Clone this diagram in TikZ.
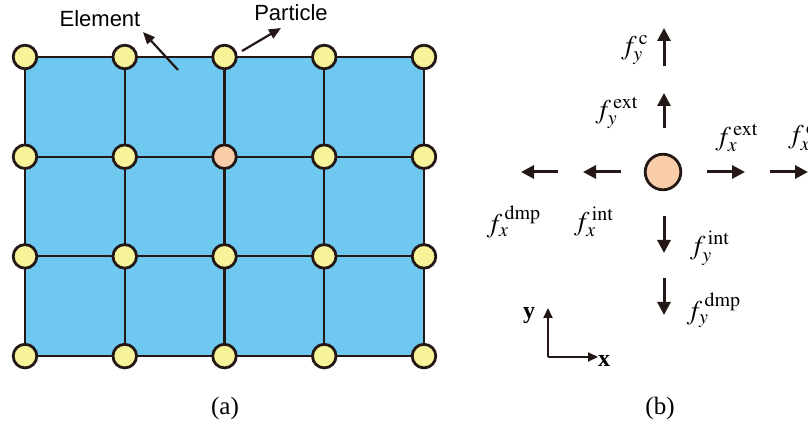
\documentclass[tikz,border=0pt]{standalone}
\usepackage{mathptmx}
\usepackage{fontspec}
\setmainfont{Liberation Serif}
\newfontfamily\labelfont{Liberation Sans}
\usetikzlibrary{arrows.meta}

\definecolor{meshblue}{RGB}{110,200,240}
\definecolor{ptcyellow}{RGB}{247,243,153}
\definecolor{ptcpeach}{RGB}{250,205,170}
\definecolor{inkline}{RGB}{35,24,21}

\begin{document}
\begin{tikzpicture}[x=0.5pt, y=-0.5pt,
    mesh/.style={inkline, line width=1.1pt},
    particle/.style={circle, draw=inkline, line width=1.4pt, fill=ptcyellow, minimum size=11.8pt, inner sep=0pt},
    pointer/.style={inkline, line width=1.1pt, -{Triangle[length=6pt, width=5pt]}},
    force/.style={inkline, line width=1.5pt, -{Triangle[length=6.5pt, width=6.5pt]}},
    axis/.style={inkline, line width=1pt, -{Triangle[length=5pt, width=4.5pt]}},
    flabel/.style={font=\fontsize{13.5}{15}\selectfont, inner sep=0pt},
    caption/.style={font=\fontsize{12.5}{14}\selectfont}]

    \useasboundingbox (0,0) rectangle (808,426);

    % (a) mesh of elements and particles
    \foreach \i in {0,...,4}
        \foreach \j in {0,...,3}
            \coordinate (g-\i-\j) at ({25+99.75*\i}, {57+99.7*\j});

    \fill[meshblue] (g-0-0) rectangle (g-4-3);
    \foreach \i in {0,...,4}
        \draw[mesh] (g-\i-0) -- (g-\i-3);
    \foreach \j in {0,...,3}
        \draw[mesh] (g-0-\j) -- (g-4-\j);

    \foreach \i in {0,...,4}
        \foreach \j in {0,...,3} {
            \def\pcol{ptcyellow}
            \ifnum\i\j=21 \def\pcol{ptcpeach}\fi
            \node[particle, fill=\pcol] (p-\i-\j) at (g-\i-\j) {};
        }

    \node[font=\labelfont\fontsize{11}{13}\selectfont] (elem) at (100,19) {Element};
    \node[font=\labelfont\fontsize{11}{13}\selectfont] (ptc) at (291,13) {Particle};
    \coordinate (elemTail) at (178,70);
    \coordinate (elemTip) at (143,32);
    \coordinate (ptcTail) at (242,51);
    \coordinate (ptcTip) at (281,28);
    \draw[pointer] (elemTail) -- (elemTip);
    \draw[pointer] (ptcTail) -- (ptcTip);

    \node[caption] (capa) at (225,408) {(a)};

    % (b) forces on one particle
    \node[particle, fill=ptcpeach, minimum size=17.8pt] (ctr) at (663,172) {};

    \coordinate (up1s) at (664,128);  \coordinate (up1e) at (664,93);
    \coordinate (up2s) at (664,66);   \coordinate (up2e) at (664,28);
    \coordinate (rt1s) at (707,172);  \coordinate (rt1e) at (745,172);
    \coordinate (rt2s) at (770,172);  \coordinate (rt2e) at (808,172);
    \coordinate (lf1s) at (621,172);  \coordinate (lf1e) at (583,172);
    \coordinate (lf2s) at (558,172);  \coordinate (lf2e) at (521,172);
    \coordinate (dn1s) at (664,216);  \coordinate (dn1e) at (664,253);
    \coordinate (dn2s) at (664,278);  \coordinate (dn2e) at (664,315);

    \draw[force] (up1s) -- (up1e);
    \draw[force] (up2s) -- (up2e);
    \draw[force] (rt1s) -- (rt1e);
    \draw[force] (rt2s) -- (rt2e);
    \draw[force] (lf1s) -- (lf1e);
    \draw[force] (lf2s) -- (lf2e);
    \draw[force] (dn1s) -- (dn1e);
    \draw[force] (dn2s) -- (dn2e);

    \node[flabel] (fyc) at (635,50) {$f^{\,\mathrm{c}}_{y}$};
    \node[flabel] (fyext) at (617,113) {$f^{\,\mathrm{ext}}_{y}$};
    \node[flabel] (fxext) at (737,138) {$f^{\,\mathrm{ext}}_{x}$};
    \node[flabel, anchor=west] (fxc) at (788,138) {$f^{\,\mathrm{c}}_{x}$};
    \node[flabel] (fxdmp) at (514,222) {$f^{\,\mathrm{dmp}}_{x}$};
    \node[flabel] (fxint) at (594,222) {$f^{\,\mathrm{int}}_{x}$};
    \node[flabel] (fyint) at (710,248) {$f^{\,\mathrm{int}}_{y}$};
    \node[flabel] (fydmp) at (714,310) {$f^{\,\mathrm{dmp}}_{y}$};

    % axes
    \coordinate (ax0) at (548,357);
    \coordinate (axX) at (598,357);
    \coordinate (axY) at (548,308);
    \draw[axis] (ax0) -- (axX);
    \draw[axis] (ax0) -- (axY);
    \node[font=\bfseries\fontsize{12}{14}\selectfont, inner sep=0pt] (xlab) at (604,361) {x};
    \node[font=\bfseries\fontsize{12}{14}\selectfont, inner sep=0pt] (ylab) at (529,316) {y};

    \node[caption] (capb) at (660,408) {(b)};

\end{tikzpicture}
\end{document}
